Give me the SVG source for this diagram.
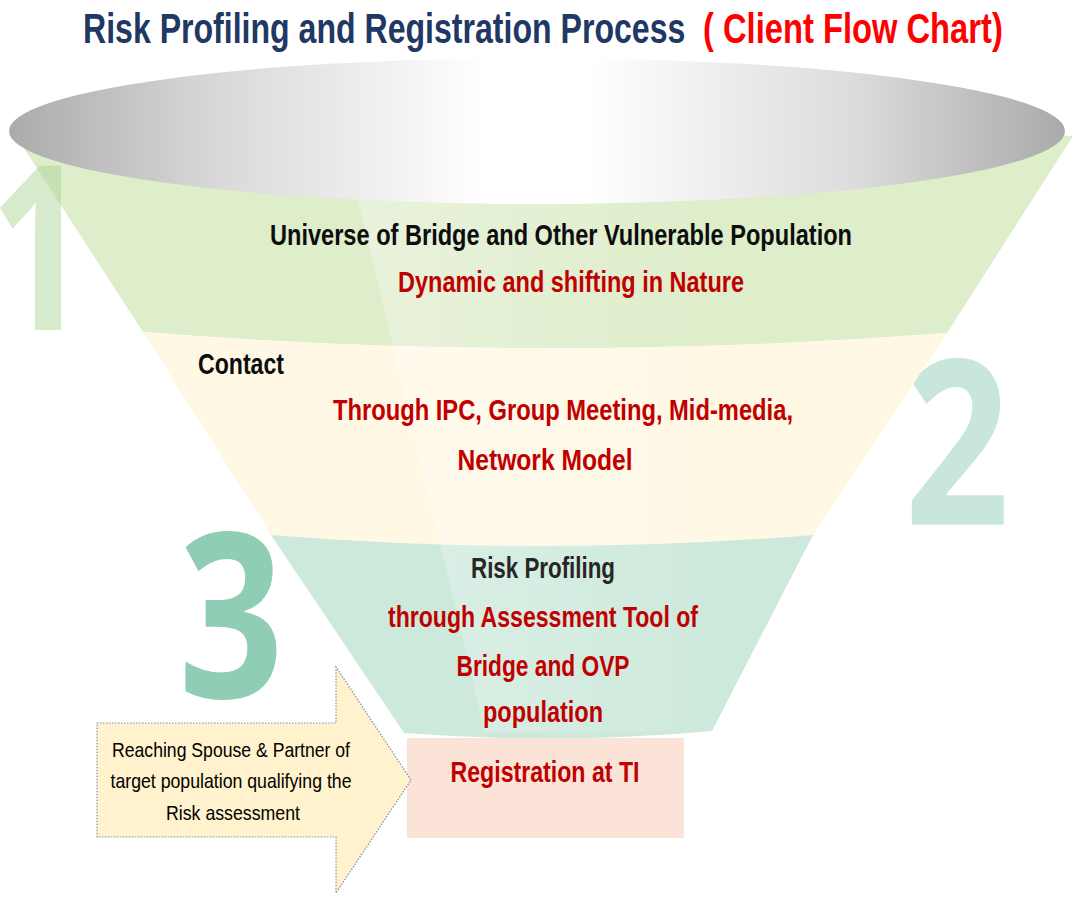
<svg xmlns="http://www.w3.org/2000/svg" width="1084" height="911" viewBox="0 0 1084 911">
<defs>
  <linearGradient id="bowl" x1="0" y1="0" x2="1" y2="0">
    <stop offset="0" stop-color="#ABABAB"/>
    <stop offset="0.2" stop-color="#D9D9D9"/>
    <stop offset="0.45" stop-color="#FFFFFF"/>
    <stop offset="0.55" stop-color="#FFFFFF"/>
    <stop offset="0.8" stop-color="#DCDCDC"/>
    <stop offset="1" stop-color="#AAAAAA"/>
  </linearGradient>
  <linearGradient id="shine" gradientUnits="userSpaceOnUse" x1="340" y1="0" x2="720" y2="0">
    <stop offset="0" stop-color="#FFFFFF" stop-opacity="0.35"/>
    <stop offset="1" stop-color="#FFFFFF" stop-opacity="0"/>
  </linearGradient>
  <clipPath id="funnelClip">
    <path d="M16,136 L143,332 L271,535 L404,733 L712,731 L813,535 L947,333 L1073,136 Z"/>
  </clipPath>
  <style>
    .num { font-family: "Open Sans", "Liberation Sans", sans-serif; font-weight: bold; font-size: 230px; }
    .ft { font-family: "Liberation Sans Narrow", "Liberation Sans", Arial, sans-serif; font-weight: bold; font-size: 30px; text-anchor: middle; }
    .blk { fill: #0D0D0D; }
    .dark { fill: #262626; }
    .red { fill: #C00000; }
    .note { font-family: "Liberation Sans Narrow", "Liberation Sans", Arial, sans-serif; font-size: 21px; fill: #000000; text-anchor: middle; }
    .title { font-family: "Liberation Sans Narrow", "Liberation Sans", Arial, sans-serif; font-weight: bold; font-size: 43px; }
  </style>
</defs>
<rect width="1084" height="911" fill="#FFFFFF"/>

<g id="title">
  <text class="title" transform="translate(83,43) scale(0.746,1)" x="0" y="0" fill="#1F3864">Risk Profiling and Registration Process</text>
  <text class="title" transform="translate(703,43) scale(0.761,1)" x="0" y="0" fill="#FF0000">( Client Flow Chart)</text>
</g>

<g id="number-2"><text class="num" transform="translate(957,525) scale(0.8,1)" x="0" y="0" fill="#C8E6DA" text-anchor="middle">2</text></g>
<g id="number-3"><text class="num" transform="translate(231,698) scale(0.8,1)" x="0" y="0" fill="#8FCDB4" text-anchor="middle">3</text></g>

<g id="level-1">
  <path d="M16,136 L143,332 Q545,364 947,333 L1073,136 Z" fill="#DEEDCA"/>
</g>
<g id="level-2">
  <path d="M143,332 Q545,364 947,333 L813,535 Q542,557 271,535 Z" fill="#FFF8E5"/>
</g>
<g id="level-3">
  <path d="M271,535 Q542,557 813,535 L712,731 Q560,745 404,733 Z" fill="#CDE9DC"/>
</g>
<g id="shine" clip-path="url(#funnelClip)">
  <path d="M343,136 L1084,136 L1084,745 L488,745 Z" fill="url(#shine)"/>
</g>

<g id="number-1"><text class="num" transform="translate(39,330) scale(0.75,1)" x="0" y="0" fill="#A9D18E" fill-opacity="0.45" text-anchor="middle">1</text></g>

<g id="bowl">
  <ellipse cx="537" cy="131" rx="528" ry="73" fill="url(#bowl)"/>
</g>

<g id="registration">
  <rect x="407" y="738" width="277" height="100" fill="#FBE4D7"/>
  <text class="ft red" x="545" y="782" font-size="31" textLength="189" lengthAdjust="spacingAndGlyphs">Registration at TI</text>
</g>

<g id="arrow-note">
  <path d="M97,723 L336,723 L336,667 L411,780 L336,893 L336,837 L97,837 Z" fill="#FFF2CC" stroke="#7F93AE" stroke-width="1.2" stroke-dasharray="1.5 1.5"/>
  <text class="note" x="231" y="757" textLength="238" lengthAdjust="spacingAndGlyphs">Reaching Spouse &amp; Partner of</text>
  <text class="note" x="231" y="788" textLength="241" lengthAdjust="spacingAndGlyphs">target population qualifying the</text>
  <text class="note" x="233" y="820" textLength="134" lengthAdjust="spacingAndGlyphs">Risk assessment</text>
</g>

<g id="level-1-text">
  <text class="ft blk" x="561" y="245" textLength="582" lengthAdjust="spacingAndGlyphs">Universe of Bridge and Other Vulnerable Population</text>
  <text class="ft red" x="571" y="292" textLength="346" lengthAdjust="spacingAndGlyphs">Dynamic and shifting in Nature</text>
</g>
<g id="level-2-text">
  <text class="ft blk" x="241" y="374" font-size="29" textLength="86" lengthAdjust="spacingAndGlyphs">Contact</text>
  <text class="ft red" x="563" y="420" textLength="460" lengthAdjust="spacingAndGlyphs">Through IPC, Group Meeting, Mid-media,</text>
  <text class="ft red" x="545" y="470" textLength="175" lengthAdjust="spacingAndGlyphs">Network Model</text>
</g>
<g id="level-3-text">
  <text class="ft dark" x="543" y="578" font-size="31" textLength="144" lengthAdjust="spacingAndGlyphs">Risk Profiling</text>
  <text class="ft red" x="543" y="627" font-size="31" textLength="310" lengthAdjust="spacingAndGlyphs">through Assessment Tool of</text>
  <text class="ft red" x="543" y="676" font-size="31" textLength="173" lengthAdjust="spacingAndGlyphs">Bridge and OVP</text>
  <text class="ft red" x="543" y="722" font-size="31" textLength="120" lengthAdjust="spacingAndGlyphs">population</text>
</g>
</svg>
